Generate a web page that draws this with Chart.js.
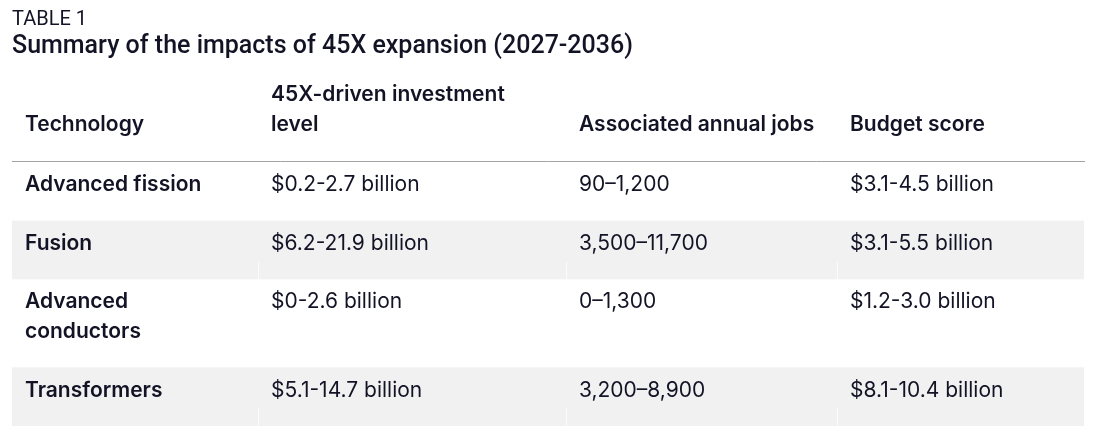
<!DOCTYPE html>
<html>
<head>
<meta charset="utf-8">
<script src="https://cdn.jsdelivr.net/npm/chart.js@4.4.1/dist/chart.umd.min.js"></script>
<style>
    html, body { margin: 0; padding: 0; background: #fff; }
    #wrap { width: 1097px; height: 441px; }
</style>
</head>
<body>
<div id="wrap"><canvas id="myTable"></canvas></div>
<script>
// table content
var headers = ["Technology", ["45X-driven investment", "level"], "Associated annual jobs", "Budget score"];
var technologies = [["Advanced fission"], ["Fusion"], ["Advanced", "conductors"], ["Transformers"]];
var investment = ["$0.2-2.7 billion", "$6.2-21.9 billion", "$0-2.6 billion", "$5.1-14.7 billion"];
var jobs = ["90\u20131,200", "3,500\u201311,700", "0\u20131,300", "3,200\u20138,900"];
var budget = ["$3.1-4.5 billion", "$3.1-5.5 billion", "$1.2-3.0 billion", "$8.1-10.4 billion"];

// layout: column edges along the table width, cell padding, row shading
var colEdges = [0, 246, 554, 825, 1072];
var cellPad = 13;
var shadedRows = [1, 3];
var textColor = "#131326";
var bodyFont = "Inter, 'Noto Sans', sans-serif";

var columns = [technologies, investment, jobs, budget];

// each row takes one unit per text line plus one unit of padding
var rowStart = [];
var total = 0;
technologies.forEach(function (lines) {
    rowStart.push(total);
    total += lines.length + 1;
});
rowStart.push(total);

function linesOf(v) {
    return Array.isArray(v) ? v : [v];
}

var datasets = columns.map(function (col, c) {
    return {
        label: Array.isArray(headers[c]) ? headers[c].join(" ") : headers[c],
        data: col.map(function (v, r) {
            return { x: colEdges[c] + cellPad, y: rowStart[r] + 0.78, text: linesOf(v) };
        }),
        pointRadius: 0,
        showLine: false,
        bold: c === 0
    };
});

var tablePlugin = {
    id: "tableCells",
    beforeDatasetsDraw: function (chart) {
        var ctx = chart.ctx;
        var x = chart.scales.x, y = chart.scales.y;
        ctx.save();
        shadedRows.forEach(function (r) {
            var top = y.getPixelForValue(rowStart[r]);
            var bottom = y.getPixelForValue(rowStart[r + 1]);
            ctx.fillStyle = "#f1f1f1";
            ctx.fillRect(x.getPixelForValue(0), top, x.getPixelForValue(1072) - x.getPixelForValue(0), bottom - top);
            // faint cell separators
            ctx.strokeStyle = "#fbfbfb";
            ctx.lineWidth = 1;
            for (var c = 1; c < colEdges.length - 1; c++) {
                var px = Math.round(x.getPixelForValue(colEdges[c])) + 0.5;
                ctx.beginPath();
                ctx.moveTo(px, top + (bottom - top) * 0.7);
                ctx.lineTo(px, bottom);
                ctx.stroke();
            }
        });
        ctx.restore();
    },
    afterDatasetsDraw: function (chart) {
        var ctx = chart.ctx;
        var y = chart.scales.y;
        var unit = Math.abs(y.getPixelForValue(1) - y.getPixelForValue(0));
        ctx.save();
        ctx.fillStyle = textColor;
        ctx.textAlign = "left";
        ctx.textBaseline = "middle";
        chart.data.datasets.forEach(function (ds, i) {
            var meta = chart.getDatasetMeta(i);
            ctx.font = (ds.bold ? "600 " : "400 ") + "21px " + bodyFont;
            meta.data.forEach(function (pt, j) {
                ds.data[j].text.forEach(function (line, k) {
                    ctx.fillText(line, pt.x, pt.y + k * unit);
                });
            });
        });
        ctx.restore();
    }
};

new Chart("myTable", {
    type: "scatter",
    data: { datasets: datasets },
    plugins: [tablePlugin],
    options: {
        responsive: true,
        maintainAspectRatio: false,
        animation: false,
        events: [],
        layout: { padding: { top: 9, left: 12, right: 13, bottom: 15 } },
        scales: {
            x: {
                type: "linear",
                position: "top",
                min: 0,
                max: 1072,
                afterBuildTicks: function (scale) {
                    scale.ticks = headers.map(function (h, i) { return { value: colEdges[i] + cellPad }; });
                },
                grid: { display: false, drawTicks: false },
                border: { display: true, color: "#a3a3a3", width: 1 },
                ticks: {
                    autoSkip: false,
                    maxRotation: 0,
                    minRotation: 0,
                    align: "start",
                    padding: 22,
                    color: textColor,
                    font: { family: bodyFont, size: 21, weight: "600", lineHeight: 1.45 },
                    callback: function (value, index) { return headers[index]; }
                }
            },
            y: {
                type: "linear",
                display: false,
                reverse: true,
                min: 0,
                max: total
            }
        },
        plugins: {
            legend: { display: false },
            tooltip: { enabled: false },
            title: {
                display: true,
                text: "TABLE 1",
                align: "start",
                color: textColor,
                font: { family: "Roboto", size: 20, weight: "normal", lineHeight: 1.1 },
                padding: { top: 0, bottom: 0 }
            },
            subtitle: {
                display: true,
                text: "Summary of the impacts of 45X expansion (2027-2036)",
                align: "start",
                color: textColor,
                font: { family: "Roboto", size: 25, weight: "500" },
                padding: { top: 1, bottom: -5 }
            }
        }
    }
});
</script>
</body>
</html>
